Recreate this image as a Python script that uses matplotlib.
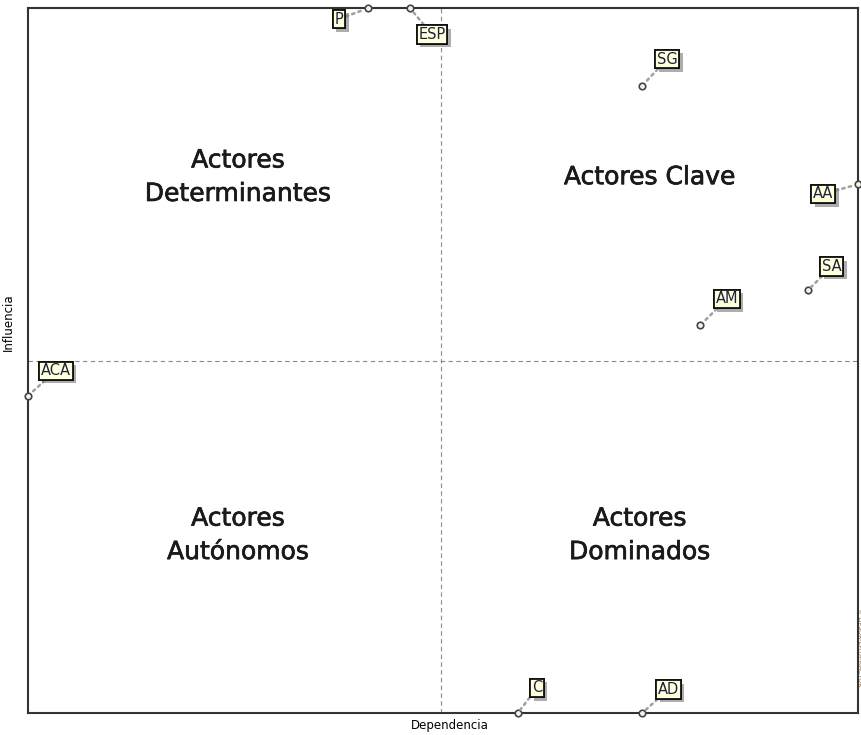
import matplotlib
matplotlib.use("Agg")
import matplotlib.pyplot as plt
import matplotlib.patheffects as pe

# actors: dependencia (x) and influencia (y), normalised to the plane
actors = ["P", "ESP", "SG", "AA", "SA", "AM", "ACA", "C", "AD"]
dependencia = [0.41, 0.46, 0.74, 1.00, 0.94, 0.81, 0.00, 0.59, 0.74]
influencia = [1.00, 1.00, 0.89, 0.75, 0.60, 0.55, 0.45, 0.00, 0.00]

quadrant_names = ["Actores\nDeterminantes", "Actores Clave",
                  "Actores\nAutónomos", "Actores\nDominados"]

# label offsets (points) from each actor marker
_OFFSETS = {
    "P": (-21, -8), "ESP": (16, -19), "SG": (18, 19), "AA": (-25, -7),
    "SA": (17, 17), "AM": (19, 19), "ACA": (20, 18), "C": (14, 18), "AD": (19, 17),
}

fig = plt.figure(figsize=(8.62, 7.35), dpi=100)
ax = fig.add_axes([28 / 862, 22 / 735, 830 / 862, 705 / 735])
ax.set_xlim(0, 1)
ax.set_ylim(0, 1)
ax.set_xticks([])
ax.set_yticks([])
for sp in ax.spines.values():
    sp.set_color("#333333")
    sp.set_linewidth(1.5)

# quadrant split lines
ax.axvline(0.4975, color="#8a8a8a", ls=(0, (4, 3)), lw=0.8, zorder=1)
ax.axhline(0.5, color="#8a8a8a", ls=(0, (4, 3)), lw=0.8, zorder=1)

# quadrant names
qpos = [(0.253, 0.76), (0.749, 0.76), (0.253, 0.252), (0.737, 0.252)]
for name, (qx, qy) in zip(quadrant_names, qpos):
    txt = ax.text(qx, qy, name, ha="center", va="center", fontsize=18,
                  color="#1a1a1a", linespacing=1.5, transform=ax.transAxes)
    txt.set_path_effects([pe.withStroke(linewidth=0.5, foreground="#1a1a1a")])

# actors
ax.scatter(dependencia, influencia, s=22, facecolor="#f4f4e4",
           edgecolor="#444444", linewidth=1.2, zorder=5, clip_on=False)
for name, x, y in zip(actors, dependencia, influencia):
    ann = ax.annotate(
        name, (x, y), xytext=_OFFSETS[name], textcoords="offset points",
        ha="center", va="center", fontsize=10.5, color="#202040",
        bbox=dict(boxstyle="square,pad=0.12", fc="#ffffdc", ec="#111111", lw=1.3),
        arrowprops=dict(arrowstyle="-", color="#a0a0a0", lw=1.8, ls=":",
                        shrinkA=0, shrinkB=3),
        zorder=6, annotation_clip=False,
    )
    ann.get_bbox_patch().set_path_effects(
        [pe.withSimplePatchShadow(offset=(2.5, -2.5), shadow_rgbFace="#777777", alpha=0.6),
         pe.Normal()])

ax.set_xlabel("Dependencia", fontsize=8.5, labelpad=3)
ax.set_ylabel("Influencia", fontsize=8.5, labelpad=4)
ax.yaxis.set_label_coords(-0.016, 0.555)
ax.xaxis.set_label_coords(0.508, -0.008)
ax.xaxis.label.set_va("top")

fig.text(0.997, 0.12, "© LIPSOR-EPITA-MACTOR", rotation=270, fontsize=4.5,
         color="#9a6a40", ha="center", va="center")

fig.savefig("out.png", dpi=100)
